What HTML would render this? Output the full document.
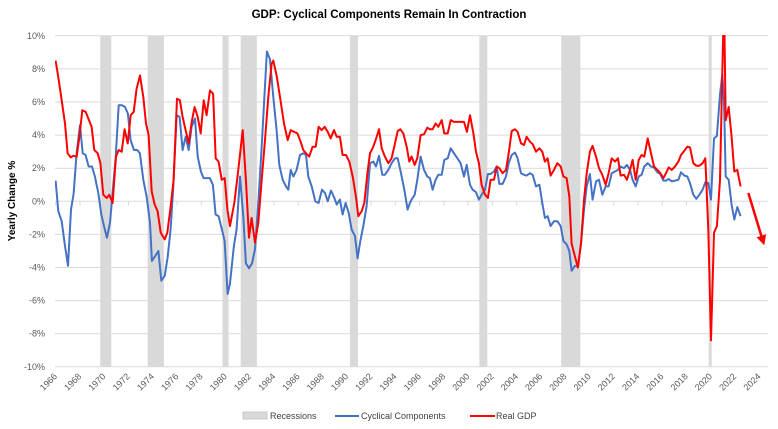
<!DOCTYPE html>
<html><head><meta charset="utf-8">
<style>
html,body{margin:0;padding:0;background:#fff;}
svg{display:block;font-family:"Liberation Sans",Arial,sans-serif;}
</style></head>
<body>
<svg id="chart" width="778" height="429" viewBox="0 0 778 429">
  <text x="389" y="18" text-anchor="middle" font-size="11.5" font-weight="bold" fill="#000">GDP: Cyclical Components Remain In Contraction</text>
  <text transform="translate(15,201) rotate(-90)" text-anchor="middle" font-size="10" font-weight="bold" fill="#000">Yearly Change %</text>
  <g id="plot"></g>
  <g>
    <g>
      <rect x="243" y="412" width="24" height="7" fill="#d9d9d9" stroke="#c8c8c8" stroke-width="1"/>
      <text x="270" y="419" font-size="9" fill="#404040">Recessions</text>
    </g>
    <g>
      <line x1="335" y1="416" x2="359" y2="416" stroke="#4472c4" stroke-width="2"/>
      <text x="361" y="419" font-size="9" fill="#404040">Cyclical Components</text>
    </g>
    <g>
      <line x1="470" y1="416" x2="495" y2="416" stroke="#ff0000" stroke-width="2"/>
      <text x="496" y="419" font-size="9" fill="#404040">Real GDP</text>
    </g>
  </g>
</svg>
<script>
const yTicks = [10,8,6,4,2,0,-2,-4,-6,-8,-10];
const xYears = [1966,1968,1970,1972,1974,1976,1978,1980,1982,1984,1986,1988,1990,1992,1994,1996,1998,2000,2002,2004,2006,2008,2010,2012,2014,2016,2018,2020,2022,2024];
const recStart = [1969.92,1973.83,1980.0,1981.5,1990.5,2001.17,2007.92,2020.08];
const recEnd   = [1970.83,1975.17,1980.5,1982.83,1991.17,2001.83,2009.5,2020.33];

const gdpYears = [1966.24,1966.46,1966.74,1967.01,1967.23,1967.48,1967.70,1967.98,1968.20,1968.44,1968.72,1968.99,1969.21,1969.43,1969.71,1969.93,1970.17,1970.45,1970.67,1970.94,1971.22,1971.44,1971.69,1971.93,1972.18,1972.43,1972.68,1972.92,1973.20,1973.47,1973.69,1973.91,1974.16,1974.41,1974.65,1974.90,1975.23,1975.45,1975.73,1975.97,1976.25,1976.49,1976.71,1976.96,1977.21,1977.46,1977.70,1977.95,1978.20,1978.45,1978.69,1978.97,1979.22,1979.44,1979.68,1979.93,1980.18,1980.40,1980.62,
1980.97,1981.30,1981.66,1981.93,1982.18,1982.40,1982.68,1982.95,1983.23,1983.50,1983.77,1984.05,1984.19,1984.46,1984.74,1985.07,1985.37,1985.62,1985.89,1986.17,1986.44,1986.66,1986.88,1987.15,1987.43,1987.68,1987.92,1988.17,1988.42,1988.67,1988.91,1989.19,1989.41,1989.68,1989.90,1990.18,1990.45,1990.73,1991.00,1991.19,1991.47,1991.69,1991.94,1992.16,1992.43,1992.71,1992.90,1993.12,1993.39,1993.67,1993.94,1994.22,1994.44,1994.66,1994.90,1995.18,1995.40,
1995.59,1995.84,1996.06,1996.33,1996.61,1996.88,1997.10,1997.32,1997.57,1997.79,1998.07,1998.28,1998.56,1998.81,1999.08,1999.36,1999.63,1999.91,2000.15,2000.40,2000.68,2000.90,2001.14,2001.36,2001.64,2001.88,2002.10,2002.38,2002.60,2002.82,2003.09,2003.37,2003.59,2003.84,2004.11,2004.33,2004.61,2004.85,2005.07,2005.35,2005.57,2005.84,2006.12,2006.36,2006.58,2006.80,2007.05,2007.33,2007.60,2007.88,2008.10,2008.37,2008.59,2008.78,2009.06,2009.30,2009.55,2009.80,2010.02,2010.29,
2010.51,2010.79,2011.04,2011.31,2011.59,2011.83,2012.08,2012.36,2012.60,2012.82,2013.10,2013.34,2013.59,2013.81,2014.06,2014.31,2014.55,2014.77,2015.05,2015.32,2015.57,2015.85,2016.09,2016.34,2016.56,2016.78,2017.03,2017.30,2017.58,2017.80,2018.07,2018.32,2018.54,2018.81,2019.06,2019.31,2019.58,2019.80,2020.05,2020.27,2020.52,2020.76,2021.01,2021.20,2021.34,2021.48,2021.73,2021.97,2022.19,2022.44,2022.71];
const gdpValues = [8.5,7.5,6.1,4.7,2.9,2.65,2.75,2.7,3.9,5.5,5.4,4.9,4.5,3.1,2.9,2.3,0.4,0.2,0.4,-0.1,2.7,3.1,3.0,4.35,3.5,5.2,5.4,6.8,7.6,6.3,4.7,4.0,0.6,-0.2,-0.6,-1.9,-2.3,-1.9,-0.3,1.3,6.2,6.1,5.1,4.3,3.5,4.8,5.7,5.1,4.1,6.1,5.2,6.7,6.5,2.6,2.4,1.3,1.4,-0.5,-1.5,
-0.1,1.9,4.3,1.3,-2.2,-1.0,-2.5,-1.3,1.3,3.7,6.3,8.3,8.5,7.6,6.3,4.7,3.7,4.3,4.2,4.1,3.6,3.1,2.9,2.7,3.3,3.3,4.5,4.3,4.5,4.2,3.8,4.3,3.9,3.9,2.8,2.8,2.4,1.5,0.3,-0.9,-0.6,-0.1,1.7,2.9,3.3,3.9,4.35,3.2,2.7,2.3,2.6,3.5,4.25,4.35,4.1,3.3,2.4,
2.7,2.2,2.6,4.0,4.05,4.45,4.35,4.35,4.7,4.5,4.9,4.1,4.1,4.9,4.8,4.8,4.8,4.8,4.2,5.2,4.1,3.0,2.3,1.0,0.4,0.2,1.3,1.3,2.1,2.0,1.7,1.9,2.9,4.25,4.35,4.2,3.5,3.4,3.9,3.6,3.45,3.0,3.2,3.0,2.4,2.6,1.55,1.9,2.3,2.1,1.5,1.4,0.3,-2.55,-3.35,-4.0,-2.55,0.1,1.7,3.0,
3.35,2.7,2.0,1.6,1.0,1.7,2.6,2.4,2.6,1.55,1.6,1.3,1.9,2.5,1.3,2.5,2.8,2.7,3.8,2.9,2.1,1.9,1.7,1.4,1.7,2.05,1.9,2.1,2.4,2.8,3.05,3.3,3.25,2.3,2.15,2.15,2.3,2.6,-1.7,-8.4,-1.9,-1.5,1.3,7.75,12.2,4.9,5.7,3.9,1.8,1.9,0.9];

const cycYears = [1966.24,1966.46,1966.74,1967.01,1967.26,1967.51,1967.73,1967.97,1968.25,1968.47,1968.71,1968.96,1969.24,1969.48,1969.76,1970.01,1970.23,1970.47,1970.72,1970.94,1971.19,1971.44,1971.71,1971.96,1972.20,1972.42,1972.70,1972.97,1973.19,1973.47,1973.74,1974.02,1974.18,1974.46,1974.71,1974.95,1975.23,1975.47,1975.72,1975.94,1976.22,1976.46,1976.71,1976.96,1977.21,1977.45,1977.73,1977.95,1978.22,1978.44,1978.69,1978.96,1979.21,1979.43,1979.68,1979.95,1980.17,1980.42,1980.61,
1980.94,1981.16,1981.44,1981.71,1981.93,1982.18,1982.43,1982.68,1982.95,1983.23,1983.44,1983.66,1983.91,1984.19,1984.46,1984.68,1984.96,1985.23,1985.42,1985.62,1985.84,1986.11,1986.39,1986.66,1986.88,1987.07,1987.35,1987.65,1987.92,1988.20,1988.45,1988.67,1988.94,1989.22,1989.41,1989.68,1989.90,1990.15,1990.40,1990.64,1990.92,1991.14,1991.33,1991.61,1991.88,1992.16,1992.43,1992.65,1992.90,1993.17,1993.39,1993.67,1993.94,1994.22,1994.44,1994.71,1994.99,1995.26,1995.45,
1995.59,1995.84,1996.06,1996.33,1996.61,1996.88,1997.10,1997.32,1997.57,1997.79,1998.07,1998.28,1998.56,1998.81,1999.08,1999.36,1999.63,1999.91,2000.13,2000.40,2000.62,2000.90,2001.14,2001.36,2001.64,2001.88,2002.10,2002.38,2002.60,2002.82,2003.09,2003.37,2003.59,2003.84,2004.11,2004.33,2004.61,2004.85,2005.07,2005.35,2005.57,2005.84,2006.12,2006.36,2006.58,2006.80,2007.05,2007.33,2007.60,2007.88,2008.10,2008.37,2008.59,2008.78,2009.06,2009.30,2009.55,2009.80,2010.02,2010.29,
2010.51,2010.79,2011.04,2011.31,2011.59,2011.83,2012.08,2012.36,2012.60,2012.82,2013.10,2013.34,2013.59,2013.81,2014.06,2014.31,2014.55,2014.77,2015.05,2015.32,2015.57,2015.85,2016.09,2016.34,2016.56,2016.78,2017.03,2017.30,2017.58,2017.80,2018.07,2018.32,2018.54,2018.81,2019.06,2019.31,2019.58,2019.80,2020.05,2020.27,2020.52,2020.76,2021.01,2021.20,2021.34,2021.48,2021.73,2021.97,2022.19,2022.44,2022.71];
const cycValues = [1.25,-0.6,-1.2,-2.7,-3.9,-0.5,0.5,2.9,4.6,2.9,2.8,2.1,2.1,1.5,0.5,-0.8,-1.5,-2.2,-1.3,0.5,2.7,5.8,5.8,5.7,5.3,3.7,3.1,3.1,2.9,1.3,0.3,-1.3,-3.6,-3.3,-3.0,-4.8,-4.5,-3.4,-1.7,0.9,5.2,5.1,3.1,3.9,3.1,4.5,5.0,2.7,1.8,1.4,1.4,1.4,1.0,-0.8,-0.9,-1.7,-2.4,-5.6,-5.0,
-2.7,-1.7,1.5,-0.9,-3.75,-4.05,-3.75,-2.9,-0.1,3.3,6.1,9.05,8.6,6.3,4.3,2.2,1.3,0.9,0.7,1.9,1.5,1.9,2.8,2.9,2.8,1.5,0.9,0,-0.1,0.7,0.5,0,0.65,0.2,-0.2,0.1,-0.8,-0.1,-0.7,-1.7,-2.1,-3.45,-2.5,-1.5,-0.3,2.3,2.4,2.1,2.75,1.6,1.6,1.9,2.3,2.6,2.6,1.7,0.7,-0.5,-0.1,
0.1,0.4,1.3,2.7,1.9,1.5,1.4,0.7,1.3,1.6,1.6,2.5,2.6,3.2,2.9,2.6,2.3,1.5,2.2,1.0,0.7,0.55,0.1,0.4,0.7,1.65,1.65,1.8,2.1,1.05,1.05,1.5,2.3,2.8,2.95,2.6,1.7,1.6,1.55,1.7,1.6,0.9,1.0,-0.1,-1.0,-0.9,-1.5,-1.2,-1.2,-1.5,-2.4,-2.6,-3.0,-4.2,-3.9,-3.95,-2.55,-0.5,0.9,1.65,
0.1,1.2,1.3,0.4,0.9,0.9,1.7,1.8,1.9,2.1,2.0,2.2,1.9,1.3,0.9,1.5,1.6,2.1,2.3,2.1,2.05,1.75,1.65,1.25,1.25,1.35,1.2,1.25,1.3,1.75,1.55,1.5,1.1,0.4,0.15,0.4,0.7,1.15,1.1,0.1,3.8,3.95,6.45,7.65,6.1,1.5,1.3,-0.2,-1.1,-0.35,-0.9];

const arrowYears = [2023.35,2024.55];
const arrowValues = [0.5,-2.4];

const NS = "http://www.w3.org/2000/svg";
const L = 55, R = 768, T = 36, B = 367;
function xS(yr){ return 52.7 + (yr - 1966) * 12.13; }
function yS(v){ return 201.3 - v * 16.55; }
function mk(tag, attrs, parent){ const e = document.createElementNS(NS, tag); for (const k in attrs) e.setAttribute(k, attrs[k]); parent.appendChild(e); return e; }
const plot = document.getElementById('plot');

const defs = mk('defs', {}, plot);
const cp = mk('clipPath', {id:'clip'}, defs);
mk('rect', {x:L, y:T-1, width:R-L+20, height:B-T+2}, cp);
const mkr = mk('marker', {id:'ah', markerWidth:'4', markerHeight:'4', refX:'2.2', refY:'2', orient:'auto', markerUnits:'strokeWidth'}, defs);
mk('path', {d:'M0,0 L4,2 L0,4 Z', fill:'#ff0000'}, mkr);

// recessions
recStart.forEach((s, i) => {
  const r = mk('rect', {x:xS(s), y:T, width:xS(recEnd[i]) - xS(s), height:B - T, fill:'#d9d9d9'}, plot);
  
  
});
// gridlines & y labels
yTicks.forEach(v => {
  const g = mk('line', {x1:L, x2:R, y1:yS(v), y2:yS(v), stroke:'#d9d9d9', 'stroke-width':1}, plot);
  
  
  const t = mk('text', {x:45, y:yS(v) + 3, 'text-anchor':'end', 'font-size':'9', fill:'#595959'}, plot);
  t.textContent = v + '%';
  
  
});
// x ticks & labels
xYears.forEach(yr => {
  const tx = xS(yr) + 3;
  const tk = mk('line', {x1:tx, x2:tx, y1:yS(0), y2:yS(0) + 4, stroke:'#d9d9d9', 'stroke-width':1}, plot);
  
  
  const t = mk('text', {x:0, y:0, 'text-anchor':'end', 'font-size':'9', fill:'#595959', transform:'translate(' + (tx + 2) + ',377) rotate(-45)'}, plot);
  t.textContent = yr;
  
  
});
function series(xs, vs, color, name){
  const d = xs.map((x, i) => (i ? 'L' : 'M') + xS(x).toFixed(1) + ',' + yS(vs[i]).toFixed(1)).join(' ');
  const p = mk('path', {d:d, fill:'none', stroke:color, 'stroke-width':2, 'stroke-linejoin':'round', 'clip-path':'url(#clip)'}, plot);
  
  
}
series(cycYears, cycValues, '#4472c4', 'cyclical-components-line');
series(gdpYears, gdpValues, '#ff0000', 'real-gdp-line');
const ar = mk('line', {x1:xS(arrowYears[0]), y1:yS(arrowValues[0]), x2:xS(arrowYears[1]), y2:yS(arrowValues[1]), stroke:'#ff0000', 'stroke-width':2.5, 'marker-end':'url(#ah)'}, plot);


</script>
</body></html>
